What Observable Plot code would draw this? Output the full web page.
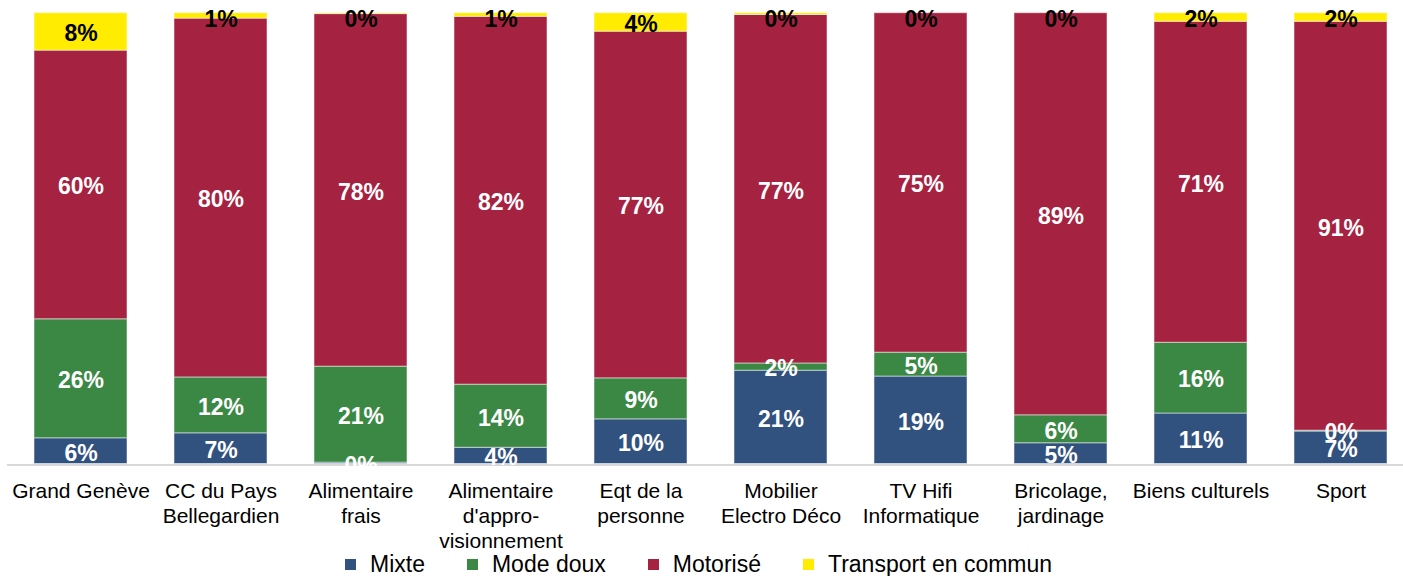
<!DOCTYPE html>
<html><head><meta charset="utf-8">
<script src="https://cdn.jsdelivr.net/npm/d3@7"></script>
<script src="https://cdn.jsdelivr.net/npm/@observablehq/plot@0.6"></script>
<style>
body{margin:0;background:#fff;font-family:"Liberation Sans",Arial,sans-serif;}
#legend{display:flex;align-items:center;height:23px;padding-left:345px;font-size:23px;color:#000;line-height:23px;}
.item{display:flex;align-items:center;margin-right:42px;}
.sw{width:11px;height:11px;margin-right:14px;}
</style></head><body>
<div id="chart"></div>
<div id="legend"></div>
<script>
const categories = ["Grand Genève","CC du Pays\nBellegardien","Alimentaire\nfrais","Alimentaire\nd'appro-\nvisionnement","Eqt de la\npersonne","Mobilier\nElectro Déco","TV Hifi\nInformatique","Bricolage,\njardinage","Biens culturels","Sport"];
const series = ["Mixte","Mode doux","Motorisé","Transport en commun"];
const colors = ["#31517F","#3B8845","#A62241","#FFEC00"];
const mixte    = [5.7, 6.8, 0.3, 3.6, 9.9, 20.7, 19.4, 4.6, 11.2, 7.2];
const modeDoux = [26.4, 12.4, 21.3, 14.0, 9.1, 1.6, 5.3, 6.2, 15.7, 0.2];
const motorise = [59.6, 79.6, 78.2, 81.6, 76.9, 77.3, 75.3, 89.2, 71.2, 90.7];
const transport= [8.3, 1.2, 0.2, 0.8, 4.1, 0.4, 0.0, 0.0, 1.9, 1.9];

const values = [mixte, modeDoux, motorise, transport];
const rows = [];
const labels = [];
categories.forEach((c, i) => {
  let base = 0;
  series.forEach((s, j) => {
    const v = values[j][i];
    rows.push({cat: c, series: s, value: v});
    const mid = base + v / 2;
    labels.push({cat: c, series: s, y: Math.min(mid, 99.0), text: Math.round(v) + "%", dark: j === 3});
    base += v;
  });
});

const H = 553;
const chart = Plot.plot({
  width: 1403,
  height: H,
  marginTop: 12.7,
  marginBottom: H - 463.5,
  marginLeft: 7,
  marginRight: 0,
  style: {fontFamily: "Liberation Sans, Arial, sans-serif", color: "#000", background: "#fff"},
  x: {domain: categories, range: [-15.2, 1435.7], padding: 0.334, label: null},
  y: {domain: [0, 100], axis: null},
  color: {domain: series, range: colors},
  marks: [
    Plot.barY(rows, {x: "cat", y: "value", fill: "series", stroke: "white", strokeOpacity: 0.5, strokeWidth: 1}),
    Plot.ruleY([0], {stroke: "#D9D9D9", strokeWidth: 2, dy: 1}),
    Plot.text(labels.filter(d => !d.dark), {x: "cat", y: "y", text: "text", fill: "white", fontWeight: "bold", fontSize: 23, dy: 2}),
    Plot.text(labels.filter(d => d.dark), {x: "cat", y: "y", text: "text", fill: "black", fontWeight: "bold", fontSize: 23, dy: 2}),
    Plot.axisX({tickSize: 0, tickPadding: 16, fontSize: 21, lineHeight: 1.19, label: null, fill: "#000"})
  ]
});
document.getElementById("chart").appendChild(chart);

const legend = document.getElementById("legend");
series.forEach((s, j) => {
  const it = document.createElement("div");
  it.className = "item";
  const sw = document.createElement("span");
  sw.className = "sw";
  sw.style.background = colors[j];
  const tx = document.createElement("span");
  tx.textContent = s;
  it.appendChild(sw); it.appendChild(tx);
  legend.appendChild(it);
});
</script>
</body></html>
